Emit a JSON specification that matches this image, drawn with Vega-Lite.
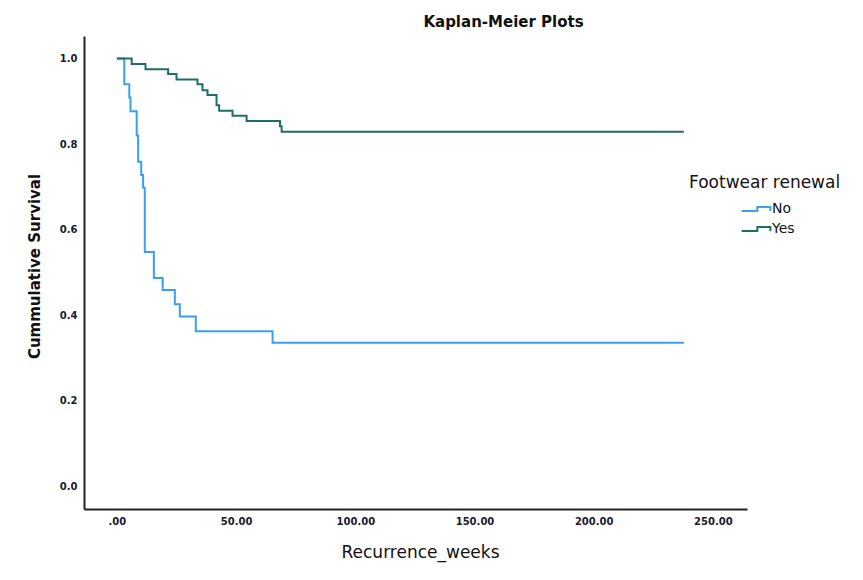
{
  "$schema": "https://vega.github.io/schema/vega-lite/v6.json",
  "autosize": {"type": "none"},
  "padding": {"left": 84, "top": 36, "right": 116, "bottom": 71},
  "width": 663,
  "height": 473,
  "background": "white",
  "title": {
    "text": "Kaplan-Meier Plots",
    "font": "DejaVu Sans",
    "fontSize": 15,
    "fontWeight": "bold",
    "color": "#111111",
    "anchor": "middle",
    "dx": 88,
    "baseline": "middle",
    "offset": -1
  },
  "data": {
    "values": [
      {"group": "No", "weeks": 0, "surv": 1.0},
      {"group": "No", "weeks": 3.1, "surv": 0.940},
      {"group": "No", "weeks": 5.2, "surv": 0.909},
      {"group": "No", "weeks": 5.7, "surv": 0.877},
      {"group": "No", "weeks": 8.3, "surv": 0.820},
      {"group": "No", "weeks": 8.9, "surv": 0.759},
      {"group": "No", "weeks": 10.2, "surv": 0.728},
      {"group": "No", "weeks": 11.0, "surv": 0.698},
      {"group": "No", "weeks": 11.7, "surv": 0.548},
      {"group": "No", "weeks": 15.5, "surv": 0.487},
      {"group": "No", "weeks": 19.2, "surv": 0.459},
      {"group": "No", "weeks": 24.3, "surv": 0.426},
      {"group": "No", "weeks": 26.4, "surv": 0.397},
      {"group": "No", "weeks": 33.1, "surv": 0.363},
      {"group": "No", "weeks": 65.3, "surv": 0.336},
      {"group": "No", "weeks": 237.8, "surv": 0.336},
      {"group": "Yes", "weeks": 0, "surv": 1.0},
      {"group": "Yes", "weeks": 6.2, "surv": 0.987},
      {"group": "Yes", "weeks": 12.0, "surv": 0.975},
      {"group": "Yes", "weeks": 21.5, "surv": 0.964},
      {"group": "Yes", "weeks": 25.0, "surv": 0.951},
      {"group": "Yes", "weeks": 33.8, "surv": 0.940},
      {"group": "Yes", "weeks": 35.9, "surv": 0.926},
      {"group": "Yes", "weeks": 38.0, "surv": 0.915},
      {"group": "Yes", "weeks": 41.8, "surv": 0.891},
      {"group": "Yes", "weeks": 42.9, "surv": 0.878},
      {"group": "Yes", "weeks": 48.5, "surv": 0.866},
      {"group": "Yes", "weeks": 54.4, "surv": 0.854},
      {"group": "Yes", "weeks": 68.4, "surv": 0.842},
      {"group": "Yes", "weeks": 69.1, "surv": 0.829},
      {"group": "Yes", "weeks": 237.8, "surv": 0.829}
    ]
  },
  "mark": {"type": "line", "interpolate": "step-after", "strokeWidth": 2},
  "encoding": {
    "x": {
      "field": "weeks",
      "type": "quantitative",
      "scale": {"domain": [-13.8, 264.3], "nice": false, "zero": false},
      "axis": {
        "title": "Recurrence_weeks",
        "values": [0, 50, 100, 150, 200, 250],
        "labelExpr": "datum.value == 0 ? '.00' : format(datum.value, '.2f')",
        "grid": false,
        "ticks": false,
        "domainColor": "#222222",
        "domainWidth": 2,
        "labelFont": "DejaVu Sans",
        "labelFontSize": 10,
        "labelFontWeight": "bold",
        "labelColor": "#1a1a2e",
        "labelPadding": 7,
        "labelFlush": false,
        "titleFont": "DejaVu Sans",
        "titleFontSize": 17,
        "titleFontWeight": "normal",
        "titleColor": "#111111",
        "titleX": 336,
        "titleY": 43,
        "titleBaseline": "middle"
      }
    },
    "y": {
      "field": "surv",
      "type": "quantitative",
      "scale": {"domain": [-0.0526, 1.0526], "nice": false, "zero": false},
      "axis": {
        "title": "Cummulative Survival",
        "values": [0, 0.2, 0.4, 0.6, 0.8, 1.0],
        "format": ".1f",
        "grid": false,
        "ticks": false,
        "domainColor": "#222222",
        "domainWidth": 2,
        "labelFont": "DejaVu Sans",
        "labelFontSize": 10,
        "labelFontWeight": "bold",
        "labelColor": "#1a1a2e",
        "labelPadding": 7,
        "labelFlush": false,
        "titleFont": "DejaVu Sans",
        "titleFontSize": 15,
        "titleFontWeight": "bold",
        "titleColor": "#111111",
        "titleX": -50,
        "titleY": 230,
        "titleAngle": -90,
        "titleAlign": "center",
        "titleBaseline": "middle"
      }
    },
    "color": {
      "field": "group",
      "type": "nominal",
      "scale": {"domain": ["No", "Yes"], "range": ["#3aa0ee", "#1e6e68"]},
      "legend": {
        "title": "Footwear renewal",
        "orient": "none",
        "legendX": 605,
        "legendY": 139,
        "titleFont": "DejaVu Sans",
        "titleFontSize": 17,
        "titleFontWeight": "normal",
        "titleColor": "#111111",
        "titlePadding": 7,
        "labelFont": "DejaVu Sans",
        "labelFontSize": 14,
        "labelColor": "#111111",
        "labelOffset": 6,
        "symbolType": "M-1.6,0.22H0.15V-0.22H1.6V0.22",
        "symbolSize": 324,
        "symbolStrokeWidth": 2,
        "symbolFillColor": "transparent",
        "symbolOffset": 57,
        "rowPadding": 3
      }
    }
  },
  "config": {"view": {"stroke": null}}
}
